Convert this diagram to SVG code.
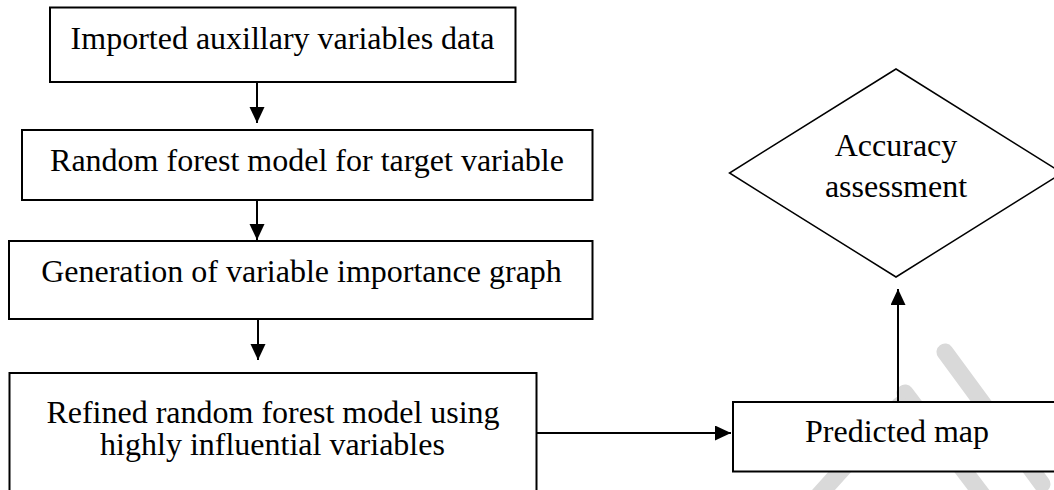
<svg xmlns="http://www.w3.org/2000/svg" width="1054" height="490" viewBox="0 0 1054 490">
  <style>
    .box { fill: #ffffff; stroke: #000000; stroke-width: 2; }
    .dia { fill: #ffffff; stroke: #000000; stroke-width: 1.5; }
    .lbl { font-family: "Liberation Serif", "Times New Roman", serif; font-size: 32px; fill: #000000; text-anchor: middle; }
    .conn { stroke: #000000; stroke-width: 2; fill: none; }
    .wm { stroke: #d9d9d9; stroke-width: 17; stroke-linecap: round; fill: none; }
  </style>
  <defs>
    <marker id="arrow" markerUnits="userSpaceOnUse" markerWidth="17" markerHeight="16" refX="16" refY="7.5" orient="auto">
      <path d="M0,0 L16,7.5 L0,15 z" fill="#000000"/>
    </marker>
  </defs>
  <rect width="1054" height="490" fill="#ffffff"/>
  <g id="watermark">
    <line class="wm" x1="945" y1="352" x2="1042" y2="484"/>
    <line class="wm" x1="905" y1="393" x2="990" y2="505"/>
    <line class="wm" x1="900" y1="405" x2="810" y2="505"/>
  </g>
  <g id="connectors">
    <line class="conn" x1="257" y1="82" x2="257" y2="123" marker-end="url(#arrow)"/>
    <line class="conn" x1="257" y1="200" x2="257" y2="240" marker-end="url(#arrow)"/>
    <line class="conn" x1="258" y1="319" x2="258" y2="360" marker-end="url(#arrow)"/>
    <line class="conn" x1="537" y1="433" x2="731" y2="433" marker-end="url(#arrow)"/>
    <line class="conn" x1="898" y1="402" x2="898" y2="289" marker-end="url(#arrow)"/>
  </g>
  <g id="node-imported">
    <rect class="box" x="50" y="7.5" width="465.5" height="74.5"/>
    <text class="lbl" x="282.5" y="49">Imported auxillary variables data</text>
  </g>
  <g id="node-rf-model">
    <rect class="box" x="22" y="130" width="570.5" height="70"/>
    <text class="lbl" x="307" y="170.5">Random forest model for target variable</text>
  </g>
  <g id="node-importance">
    <rect class="box" x="9" y="241" width="583.5" height="78"/>
    <text class="lbl" x="301.5" y="281.5">Generation of variable importance graph</text>
  </g>
  <g id="node-refined">
    <rect class="box" x="9.5" y="373" width="527" height="130"/>
    <text class="lbl" x="273" y="422.5">Refined random forest model using</text>
    <text class="lbl" x="272.5" y="455">highly influential variables</text>
  </g>
  <g id="node-predicted">
    <rect class="box" x="733" y="402" width="330" height="69.5"/>
    <text class="lbl" x="897" y="442">Predicted map</text>
  </g>
  <g id="node-accuracy">
    <polygon class="dia" points="896,69 1062,173 896,277 729.5,173"/>
    <text class="lbl" x="896" y="156">Accuracy</text>
    <text class="lbl" x="896" y="197">assessment</text>
  </g>
</svg>
